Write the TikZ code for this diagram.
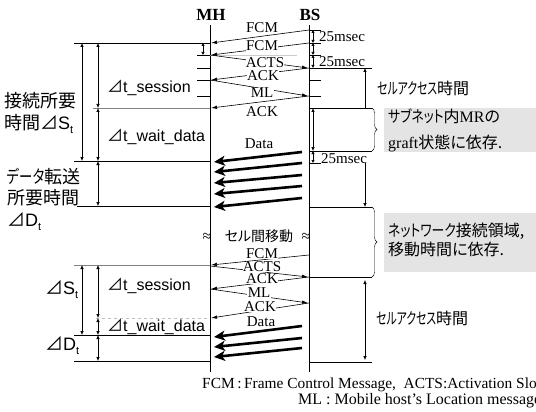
\documentclass[tikz,border=0pt]{standalone}
\usepackage{fontspec}
\setmainfont{Liberation Serif}
\newfontfamily\jpfont[RawFeature=+palt]{Noto Sans CJK JP}
\newfontfamily\arialfont{Liberation Sans}
\usetikzlibrary{arrows.meta, decorations.pathreplacing}
\definecolor{boxgray}{RGB}{228,228,228}
\definecolor{rulegray}{RGB}{130,130,130}
\newcommand{\dlt}{{\jpfont ⊿}}
\newcommand{\subt}[1]{{\arialfont #1}\raisebox{-4pt}{\fontsize{11}{11}\selectfont\arialfont t}}
\newcommand{\kana}[2][0.8]{\scalebox{#1}[1]{#2}}

\begin{document}
\begin{tikzpicture}[x=1pt, y=-1pt,
    dimarrow/.style={{Latex[length=4pt,width=3.5pt]}-{Latex[length=4pt,width=3.5pt]}, line width=0.6pt},
    onearrow/.style={-{Latex[length=4pt,width=3.5pt]}, line width=0.6pt},
    tinyarrow/.style={{Latex[length=3pt,width=3.5pt]}-{Latex[length=3pt,width=3.5pt]}, line width=0.6pt},
    msg/.style={-{Latex[length=6pt,width=3.5pt]}, line width=0.6pt},
    datamsg/.style={line width=2.6pt, -{Stealth[length=11pt,width=10pt,inset=3pt]}},
    msglabel/.style={font=\fontsize{15}{15}\selectfont, fill=white, inner sep=0.3pt},
    jplabel/.style={font=\fontsize{16}{18}\selectfont\jpfont, anchor=west, inner sep=0pt},
    leftlabel/.style={font=\fontsize{18}{21.5}\selectfont\jpfont, anchor=west, align=left, inner sep=0pt},
    tlabel/.style={font=\fontsize{16}{16}\selectfont, anchor=west, inner sep=0pt},
    msec/.style={font=\fontsize{15}{15}\selectfont, anchor=west, inner sep=0pt},
    caption/.style={anchor=west, inner sep=0pt}]
  \useasboundingbox (0,0) rectangle (536,412);

  % gray notes on the right
  \fill[boxgray] (384,108) rectangle (536,152);
  \fill[boxgray] (384,213) rectangle (536,272);

  % MH and BS
  \node[font=\bfseries\fontsize{17}{17}\selectfont] (mh) at (211,15) {MH};
  \node[font=\bfseries\fontsize{17}{17}\selectfont] (bs) at (310,15) {BS};
  \draw[line width=0.7pt] (210,25) -- (210,372);
  \draw[line width=0.7pt] (309,25) -- (309,372);

  % ticks and guide lines
  \foreach \y in {55,68,80,96}
    \draw (197,\y) -- (210,\y);
  \foreach \y in {30,43,55,80,96,163}
    \draw (309,\y) -- (321,\y);
  \foreach \y in {68,108,151,207,277,362}
    \draw (309,\y) -- (372,\y);
  \foreach \x/\y in {74/43, 74/161, 77/206, 74/335, 74/361}
    \draw (\x,\y) -- (210,\y);
  \draw[rulegray] (93,108) -- (210,108);
  \draw[rulegray] (74,265) -- (210,265);
  \draw[black!25, dashed] (96,318) -- (210,318);
  \draw[black!20] (210,55) -- (297,55);

  % time spans
  \foreach \x/\ya/\yb in {82/43/161, 98/43/108, 98/108/161, 98/161/206,
                          82/265/335, 98/265/318, 98/318/335, 98/335/361,
                          313/108/151, 365/280/360}
    \draw[dimarrow] (\x,\ya) -- (\x,\yb);
  \foreach \x/\ya/\yb in {203/43/55, 313/30/43, 313/43/55, 313/55/68, 313/151/163}
    \draw[tinyarrow] (\x,\ya) -- (\x,\yb);
  \draw[onearrow] (365,108) -- (365,68);
  \draw[onearrow] (365,163) -- (365,207);

  % messages
  \foreach \ya/\yb in {30/43, 43/55, 68/80, 96/108, 255/265, 277/289, 303/318}
    \draw[msg] (309,\ya) -- (211,\yb);
  \foreach \ya/\yb in {55/68, 80/96, 266/277, 289/303}
    \draw[msg] (210,\ya) -- (308,\yb);
  \foreach \ya/\yb in {152/162, 163/172, 175/183, 186/194, 198/207,
                       326/337, 338/347, 348/357}
    \draw[datamsg] (302,\ya) -- (214,\yb);
  \foreach \x/\y/\t [count=\i] in {262/28/FCM, 262/46/FCM, 265/63/ACTS, 263/76/ACK,
                                   262/93/ML, 262/112/ACK, 259/144/Data,
                                   262/254/FCM, 262/267/ACTS, 262/279/ACK,
                                   259/293/ML, 260/307/ACK, 261/322/Data}
    \node[msglabel] (m\i) at (\x,\y) {\t};

  % 25msec
  \node[msec] (ms1) at (319,37) {25msec};
  \node[msec] (ms2) at (319,62) {25msec};
  \node[msec] (ms3) at (321,159) {25msec};

  % braces
  \draw[decorate, decoration={brace, amplitude=5pt}] (372,108) -- (372,151);
  \draw[decorate, decoration={brace, amplitude=5pt}] (372,207) -- (372,277);

  % left labels
  \node[leftlabel] (conn) at (4,113) {接続所要\\時間\dlt\subt{S}};
  \node[leftlabel] (xfer) at (7,199) {\kana[0.74]{データ}転送\\所要時間\\\dlt\subt{D}};
  \node[tlabel] (sess1) at (107,88) {\dlt{\arialfont t\_session}};
  \node[tlabel] (wait1) at (107,137) {\dlt{\arialfont t\_wait\_data}};
  \node[tlabel] (sess2) at (107,286) {\dlt{\arialfont t\_session}};
  \node[tlabel] (wait2) at (107,327) {\dlt{\arialfont t\_wait\_data}};
  \node[leftlabel] (conn2) at (45,290) {\dlt\subt{S}};
  \node[leftlabel] (xfer2) at (45,346) {\dlt\subt{D}};

  % right labels
  \node[jplabel] (cell1) at (377,88) {\kana[0.68]{セルアクセス}時間};
  \node[jplabel] (cell2) at (376,318) {\kana[0.68]{セルアクセス}時間};
  \node[jplabel, align=left, font=\fontsize{16}{26}\selectfont\jpfont] (graft) at (388,130)
    {\kana{サブネット}内{\rmfamily MR}の\\{\rmfamily graft}状態に依存.};
  \node[jplabel, align=left, font=\fontsize{16}{19}\selectfont\jpfont] (netw) at (388,240)
    {\kana{ネットワーク}接続領域,\\移動時間に依存.};

  % cell move
  \node[font=\fontsize{16}{16}\selectfont] (brk1) at (207,237) {≈};
  \node[font=\fontsize{16}{16}\selectfont] (brk2) at (306,237) {≈};
  \node[font=\fontsize{14}{14}\selectfont\jpfont] (move) at (259,236) {セル間移動};

  % caption
  \node[caption, font=\fontsize{15.4}{15.4}\selectfont] (cap1) at (202,385)
    {FCM\,:\,Frame Control Message,\ \ ACTS:Activation Slot};
  \node[caption, font=\fontsize{16}{16}\selectfont] (cap2) at (298,401)
    {ML : Mobile host’s Location message};
\end{tikzpicture}
\end{document}
